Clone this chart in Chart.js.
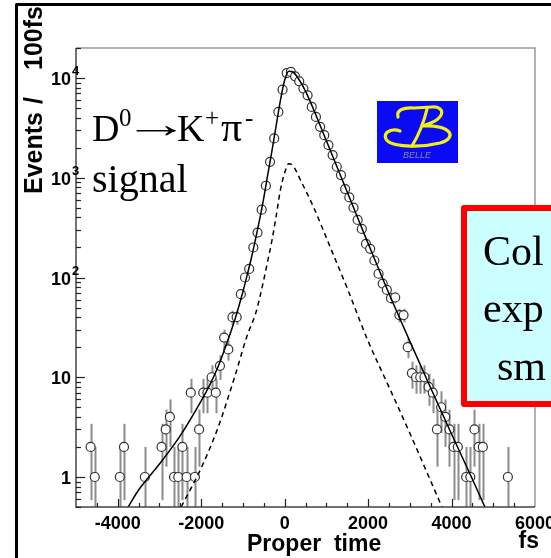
<!DOCTYPE html>
<html>
<head>
<meta charset="utf-8">
<script src="https://cdn.jsdelivr.net/npm/chart.js@4.4.1/dist/chart.umd.min.js"></script>
<style>
  body { margin: 0; background: #fff; }
  #wrap { position: relative; width: 551px; height: 558px; overflow: hidden; }
</style>
</head>
<body>
<div id="wrap"><canvas id="myChart" width="551" height="558"></canvas></div>
<script>
// proper time histogram: bin centres (fs) and events per 100 fs
const binTime = [
  -4650, -4550, -3950, -3850, -3350, -2950, -2850, -2750, -2650, -2550,
  -2450, -2350, -2250, -2150, -2050, -1950, -1850, -1750, -1650, -1550,
  -1450, -1350, -1250, -1150, -1050, -950, -850, -750, -650, -550,
  -450, -350, -250, -150, -50, 50, 150, 250, 350, 450,
  550, 650, 750, 850, 950, 1050, 1150, 1250, 1350, 1450,
  1550, 1650, 1750, 1850, 1950, 2050, 2150, 2250, 2350, 2450,
  2550, 2650, 2750, 2850, 2950, 3050, 3150, 3250, 3350, 3450,
  3550, 3650, 3750, 3850, 3950, 4050, 4150, 4350, 4450, 4550,
  4650, 4750, 5350
];
const binCount = [
  2, 1, 1, 2, 1, 2, 3, 4, 1, 1,
  2, 1, 7, 1, 3, 7, 7, 10, 7, 13,
  25, 19, 40, 40, 68, 100, 122, 200, 282, 479,
  832, 1445, 2480, 4570, 7650, 11200, 11500, 10400, 9270, 7830,
  6710, 5130, 4075, 3240, 2675, 2125, 1690, 1290, 1065, 770,
  635, 501, 378, 307, 217, 194, 148, 109, 87, 75,
  62, 63, 42, 42, 20, 11, 10, 10, 10, 8,
  7, 3, 5, 4, 3, 2, 2, 1, 1, 3,
  2, 2, 1
];

// full fit (solid)
const fitTime = [
  -3750, -3500, -3000, -2500, -2000, -1800, -1600, -1400, -1200, -1000,
  -900, -800, -700, -600, -500, -400, -300, -200, -100, 0,
  100, 200, 300, 500, 1000, 1500, 2000, 2500, 3000, 3500,
  4000, 4500, 4800
];
const fitValue = [
  0.5, 0.74, 1.35, 2.6, 5.8, 8.3, 12.6, 21, 37, 72,
  105, 155, 240, 380, 630, 1100, 1900, 3400, 6000, 9500,
  11700, 11500, 10300, 7400, 2350, 720, 220, 69, 23, 7.8,
  2.7, 0.95, 0.5
];

// smearing part (dashed)
const dashTime = [
  -2480, -2000, -1600, -1200, -900, -700, -600, -500, -400, -300,
  -200, -100, 0, 100, 200, 400, 700, 1000, 1500, 2000,
  2500, 3000, 3500, 3770
];
const dashValue = [
  0.5, 1.23, 3.1, 10, 26, 43, 62, 95, 150, 240,
  420, 760, 1120, 1380, 1320, 910, 500, 250, 78, 23,
  8, 2.75, 0.91, 0.5
];

// axis ticks
const xTicks = [-4000, -2000, 0, 2000, 4000, 6000];
const xMinorStep = 500;
const yTicks = [1, 10, 100, 1000, 10000];
const yTickBase = ["1", "10", "10", "10", "10"];
const yTickPower = ["", "", "2", "3", "4"];

const histPoints = binTime.map((t, i) => ({ x: t, y: binCount[i] }));
const fitPoints = fitTime.map((t, i) => ({ x: t, y: fitValue[i] }));
const dashPoints = dashTime.map((t, i) => ({ x: t, y: dashValue[i] }));

const SANS = "'Liberation Sans', Arial, sans-serif";
const SERIF = "'Liberation Serif', 'Times New Roman', serif";

// gray error bars behind the open circles
const errorBars = {
  id: "errorBars",
  beforeDatasetsDraw(chart) {
    const c = chart.ctx;
    const xs = chart.scales.x;
    const ys = chart.scales.y;
    const area = chart.chartArea;
    c.save();
    c.beginPath();
    c.rect(area.left, area.top, area.right - area.left, area.bottom - area.top);
    c.clip();
    c.strokeStyle = "#8c8c8c";
    c.lineWidth = 2;
    binCount.forEach((n, i) => {
      const err = Math.sqrt(n);
      const lo = Math.max(n - err, 0.4);
      const px = Math.round(xs.getPixelForValue(binTime[i])) + 0.5;
      c.beginPath();
      c.moveTo(px, ys.getPixelForValue(lo));
      c.lineTo(px, ys.getPixelForValue(n + err));
      c.stroke();
    });
    c.restore();
  },
};

// frame, axes, labels, annotations
const decorations = {
  id: "decorations",
  afterDatasetsDraw(chart) {
    const c = chart.ctx;
    const xs = chart.scales.x;
    const ys = chart.scales.y;
    const a = chart.chartArea;
    c.save();

    // top and right of the frame
    c.strokeStyle = "#9a9a9a";
    c.lineWidth = 1.5;
    c.beginPath();
    c.moveTo(a.left, a.top);
    c.lineTo(a.right, a.top);
    c.lineTo(a.right, a.bottom);
    c.stroke();

    // axes
    c.strokeStyle = "#444";
    c.lineWidth = 1.5;
    c.beginPath();
    c.moveTo(a.left, a.top);
    c.lineTo(a.left, a.bottom);
    c.lineTo(a.right, a.bottom);
    c.stroke();

    // x ticks
    c.strokeStyle = "#222";
    c.lineWidth = 1.2;
    for (let v = -5000 + xMinorStep; v < 6000; v += xMinorStep) {
      const px = Math.round(xs.getPixelForValue(v)) + 0.5;
      const len = v % 2000 === 0 ? 8 : 4;
      c.beginPath();
      c.moveTo(px, a.bottom);
      c.lineTo(px, a.bottom - len);
      c.stroke();
    }
    // y ticks (log)
    for (let d = 0.1; d <= 10000; d *= 10) {
      for (let m = 1; m < 10; m++) {
        const v = d * m;
        if (v < 0.5 || v > 20000) continue;
        const py = Math.round(ys.getPixelForValue(v)) + 0.5;
        const len = m === 1 ? 9 : 5;
        c.beginPath();
        c.moveTo(a.left, py);
        c.lineTo(a.left + len, py);
        c.stroke();
      }
    }

    // tick labels
    c.fillStyle = "#000";
    c.font = "bold 18px " + SANS;
    c.textAlign = "center";
    c.textBaseline = "alphabetic";
    xTicks.forEach((v) => {
      c.fillText(String(v), xs.getPixelForValue(v), 529);
    });
    yTicks.forEach((v, i) => {
      const py = ys.getPixelForValue(v);
      c.font = "bold 18px " + SANS;
      c.textAlign = "right";
      c.fillText(yTickBase[i], 71, py + 7);
      if (yTickPower[i]) {
        c.font = "bold 13px " + SANS;
        c.textAlign = "left";
        c.fillText(yTickPower[i], 72, py - 3);
      }
    });

    // axis titles
    c.font = "bold 23px " + SANS;
    c.textAlign = "left";
    c.fillText("Proper  time", 247, 551);
    c.textAlign = "right";
    c.fillText("fs", 539, 548);
    c.save();
    c.translate(42, 194);
    c.rotate(-Math.PI / 2);
    c.textAlign = "left";
    c.font = "bold 25px " + SANS;
    c.fillText("Events", 0, 0);
    c.fillText("/", 90, 0);
    c.fillText("100fs", 124, 0);
    c.restore();

    // decay label
    c.textAlign = "left";
    c.font = "38px " + SERIF;
    c.fillText("D", 92, 141);
    c.font = "25px " + SERIF;
    c.fillText("0", 119, 126);
    // arrow glyph stretched to span 135..177
    c.font = "38px " + SERIF;
    const m = c.measureText("\u2192");
    const inkW = m.actualBoundingBoxRight + m.actualBoundingBoxLeft;
    const s = 42 / inkW;
    c.save();
    c.translate(135 + m.actualBoundingBoxLeft * s, 137);
    c.scale(s, 1);
    c.fillText("\u2192", 0, 0);
    c.restore();
    c.fillText("K", 177, 141);
    c.font = "25px " + SERIF;
    c.fillText("+", 205, 126);
    c.font = "42px " + SERIF;
    c.fillText("\u03c0", 221, 141);
    c.font = "25px " + SERIF;
    c.fillText("-", 245, 126);
    c.font = "40px " + SERIF;
    c.fillText("signal", 92, 192);

    // Belle logo
    c.fillStyle = "#0a0af5";
    c.fillRect(377, 101, 81, 62);
    c.strokeStyle = "#f2f20a";
    c.lineWidth = 3.2;
    c.lineCap = "round";
    c.beginPath();
    c.moveTo(398, 117);
    c.bezierCurveTo(396, 110, 404, 107, 414, 108);
    c.lineTo(432, 107);
    c.bezierCurveTo(446, 106, 447, 120, 421, 126);
    c.bezierCurveTo(452, 124, 458, 138, 440, 143);
    c.bezierCurveTo(420, 148, 390, 147, 386, 139);
    c.bezierCurveTo(383, 132, 392, 128, 400, 131);
    c.stroke();
    c.beginPath();
    c.moveTo(427, 109);
    c.bezierCurveTo(424, 122, 418, 136, 412, 146);
    c.stroke();
    c.fillStyle = "#8a8a9a";
    c.font = "italic 9px " + SANS;
    c.textAlign = "center";
    c.fillText("BELLE", 417, 158);

    // red note box
    c.fillStyle = "#ccffff";
    c.fillRect(464, 208, 100, 196);
    c.strokeStyle = "#ff0000";
    c.lineWidth = 6;
    c.lineJoin = "round";
    c.strokeRect(464, 208, 100, 196);
    c.fillStyle = "#000";
    c.font = "42px " + SERIF;
    c.textAlign = "left";
    c.fillText("Col", 483, 265);
    c.fillText("exp", 483, 322);
    c.fillText("sm", 497, 380);

    // outer border
    c.strokeStyle = "#000";
    c.lineWidth = 3;
    c.lineCap = "butt";
    c.beginPath();
    c.moveTo(16.5, 570);
    c.lineTo(16.5, 4.5);
    c.lineTo(570, 4.5);
    c.stroke();

    c.restore();
  },
};

const ctx = document.getElementById("myChart");
const myChart = new Chart(ctx, {
  type: "scatter",
  data: {
    datasets: [
      {
        type: "line",
        data: fitPoints,
        borderColor: "#000",
        borderWidth: 1.5,
        pointRadius: 0,
        cubicInterpolationMode: "monotone",
        order: 0,
      },
      {
        type: "line",
        data: dashPoints,
        borderColor: "#000",
        borderWidth: 1.5,
        borderDash: [5, 4],
        pointRadius: 0,
        cubicInterpolationMode: "monotone",
        order: 0,
      },
      {
        data: histPoints,
        pointRadius: 4.5,
        pointBorderWidth: 1.2,
        borderColor: "#333",
        backgroundColor: "#fff",
        order: 1,
      },
    ],
  },
  options: {
    responsive: false,
    animation: false,
    devicePixelRatio: 1,
    layout: { padding: { left: 76, top: 48, right: 16, bottom: 51 } },
    plugins: { legend: { display: false }, tooltip: { enabled: false } },
    scales: {
      x: { type: "linear", min: -5000, max: 6000, display: false },
      y: { type: "logarithmic", min: 0.5, max: 20000, display: false },
    },
  },
  plugins: [errorBars, decorations],
});
</script>
</body>
</html>
